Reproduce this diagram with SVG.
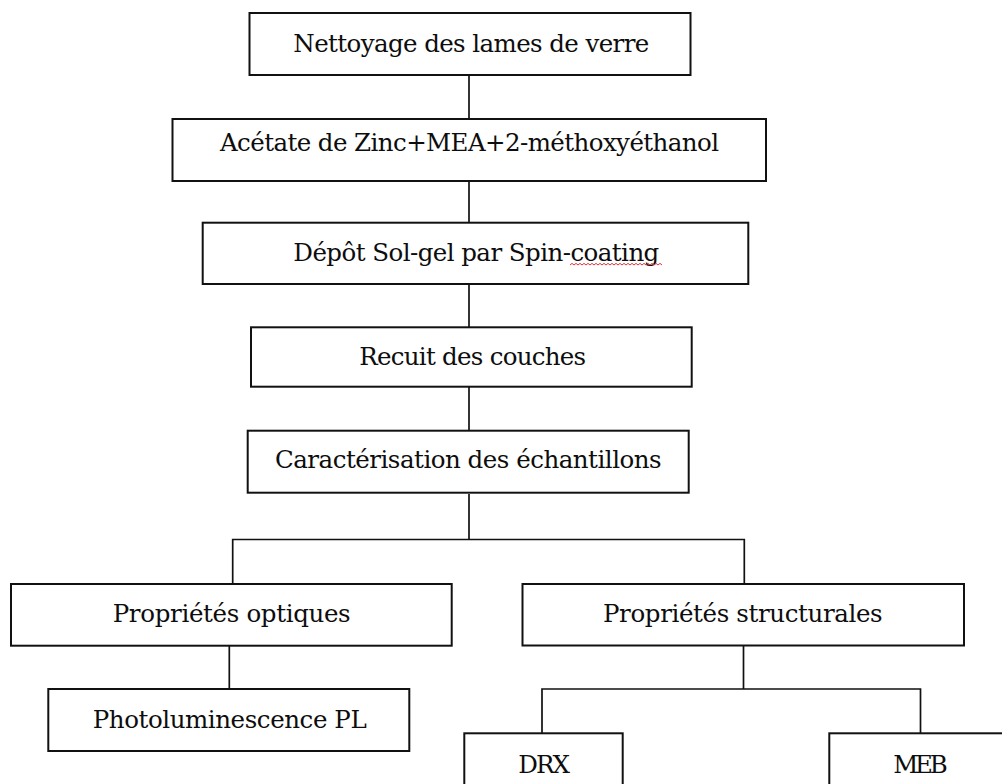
<svg xmlns="http://www.w3.org/2000/svg" width="1002" height="784" viewBox="0 0 1002 784">
<style>
.box{fill:#fff;stroke:#111;stroke-width:2}
.lbl{font-family:"DejaVu Serif","Liberation Serif",serif;font-size:24.5px;fill:#0d0d0d;text-anchor:middle}
.conn{fill:none;stroke:#111;stroke-width:1.7}
.spell{fill:none;stroke:#e0303a;stroke-width:1}
</style>
<rect width="1002" height="784" fill="#fff"/>
<g id="connectors">
<line class="conn" x1="469" y1="75" x2="469" y2="119"/>
<line class="conn" x1="469" y1="181" x2="469" y2="223"/>
<line class="conn" x1="469" y1="284" x2="469" y2="327"/>
<line class="conn" x1="469" y1="387" x2="469" y2="431"/>
<polyline class="conn" points="469,494 469,539.5"/>
<polyline class="conn" points="232.7,584 232.7,539.5 744.3,539.5 744.3,584"/>
<line class="conn" x1="229.3" y1="646" x2="229.3" y2="689"/>
<line class="conn" x1="743.5" y1="645" x2="743.5" y2="689"/>
<polyline class="conn" points="542,733 542,689 920.5,689 920.5,733"/>
</g>
<g id="n1"><rect class="box" x="249.5" y="13" width="441" height="62"/><text class="lbl" x="471.3" y="51.7" textLength="356">Nettoyage des lames de verre</text></g>
<g id="n2"><rect class="box" x="172.5" y="119" width="593.5" height="62"/><text class="lbl" x="469.5" y="151" textLength="499">Acétate de Zinc+MEA+2-méthoxyéthanol</text></g>
<g id="n3"><rect class="box" x="202.7" y="222.7" width="545.6" height="61.3"/><text class="lbl" x="476.3" y="261" textLength="366">Dépôt Sol-gel par Spin-coating</text>
<path class="spell" d="M570,265 l2,-1.6 l2,1.6 l2,-1.6 l2,1.6 l2,-1.6 l2,1.6 l2,-1.6 l2,1.6 l2,-1.6 l2,1.6 l2,-1.6 l2,1.6 l2,-1.6 l2,1.6 l2,-1.6 l2,1.6 l2,-1.6 l2,1.6 l2,-1.6 l2,1.6 l2,-1.6 l2,1.6 l2,-1.6 l2,1.6 l2,-1.6 l2,1.6 l2,-1.6 l2,1.6 l2,-1.6 l2,1.6 l2,-1.6 l2,1.6 l2,-1.6 l2,1.6 l2,-1.6 l2,1.6 l2,-1.6 l2,1.6 l2,-1.6 l2,1.6 l2,-1.6 l2,1.6 l2,-1.6 l2,1.6 l2,-1.6 l2,1.6"/></g>
<g id="n4"><rect class="box" x="251" y="327.3" width="440.7" height="59.4"/><text class="lbl" x="472.7" y="365" textLength="226.7">Recuit des couches</text></g>
<g id="n5"><rect class="box" x="247.7" y="430.7" width="441" height="62"/><text class="lbl" x="468.3" y="468.3" textLength="386.7">Caractérisation des échantillons</text></g>
<g id="n6"><rect class="box" x="11" y="584" width="440.7" height="61.7"/><text class="lbl" x="231.7" y="622.3" textLength="238">Propriétés optiques</text></g>
<g id="n7"><rect class="box" x="48.3" y="689" width="361" height="62"/><text class="lbl" x="229.7" y="728.3" textLength="274">Photoluminescence PL</text></g>
<g id="n8"><rect class="box" x="522.5" y="584" width="441.5" height="61.5"/><text class="lbl" x="742.8" y="622.3" textLength="279.6">Propriétés structurales</text></g>
<g id="n9"><rect class="box" x="464.3" y="733.3" width="158.4" height="70"/><text class="lbl" x="544.2" y="772.7" textLength="51.7">DRX</text></g>
<g id="n10"><rect class="box" x="829.3" y="733.3" width="190" height="70"/><text class="lbl" x="920.5" y="772.7" textLength="54.4">MEB</text></g>
</svg>
